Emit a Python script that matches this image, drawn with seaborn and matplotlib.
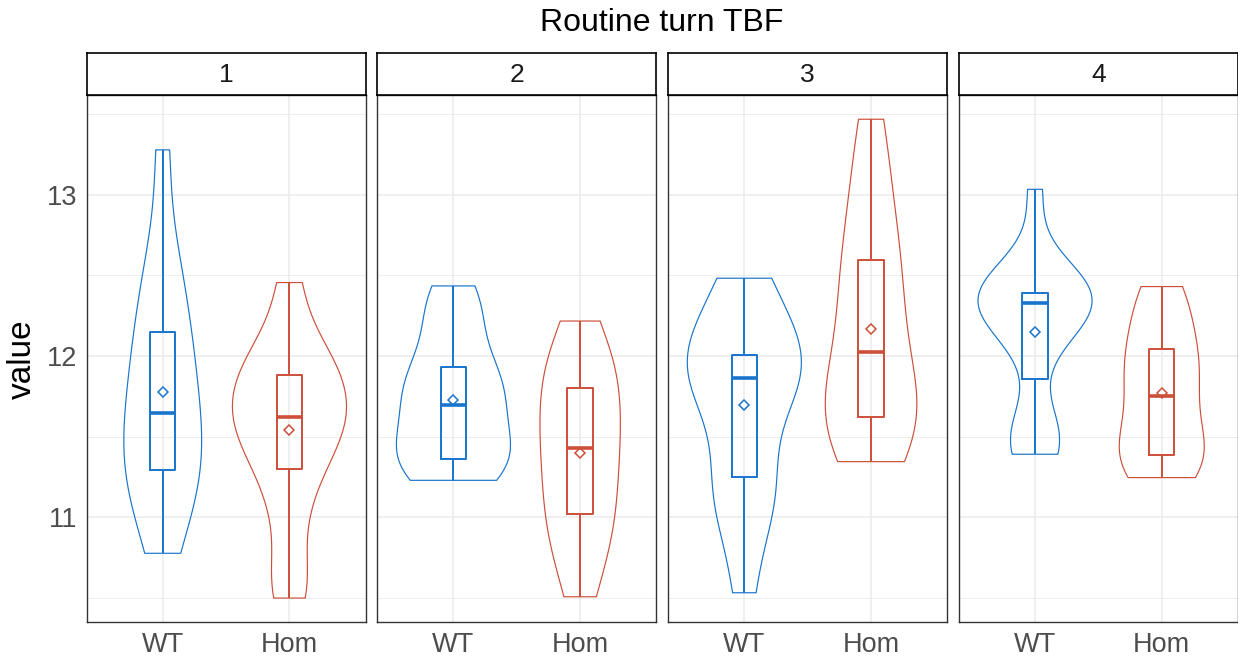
import numpy as np
import pandas as pd
import matplotlib
matplotlib.use("Agg")
import matplotlib.pyplot as plt
import seaborn as sns

# Routine turn TBF, per turn and genotype
turns = ["1", "2", "3", "4"]
genotypes = ["WT", "Hom"]
palette = {"WT": "#1874CD", "Hom": "#CD4F39"}

wt_1 = [10.775, 11.0, 11.15, 11.25, 11.334, 11.45, 11.55, 11.644, 11.82, 11.98, 12.05, 12.248, 12.45, 12.65, 13.28]
hom_1 = [10.497, 10.65, 11.0, 11.22, 11.38, 11.45, 11.55, 11.619, 11.67, 11.75, 11.84, 11.92, 11.98, 12.12, 12.456]
wt_2 = [11.228, 11.31, 11.34, 11.35, 11.366, 11.50, 11.62, 11.694, 11.78, 11.85, 11.88, 11.988, 12.23, 12.30, 12.435]
hom_2 = [10.505, 10.70, 10.88, 10.98, 11.054, 11.20, 11.33, 11.431, 11.52, 11.62, 11.75, 11.858, 11.92, 12.035, 12.217]
wt_3 = [10.53, 10.95, 11.12, 11.22, 11.274, 11.65, 11.80, 11.866, 11.93, 11.97, 11.99, 12.018, 12.22, 12.38, 12.483]
hom_3 = [11.344, 11.45, 11.55, 11.60, 11.642, 11.72, 11.85, 12.027, 12.22, 12.38, 12.52, 12.668, 12.90, 13.15, 13.47]
wt_4 = [11.39, 11.42, 11.48, 11.64, 12.08, 12.15, 12.24, 12.327, 12.35, 12.37, 12.39, 12.398, 12.45, 12.53, 13.035]
hom_4 = [11.245, 11.30, 11.36, 11.375, 11.395, 11.54, 11.66, 11.752, 11.86, 11.95, 12.02, 12.064, 12.26, 12.34, 12.431]

groups = {"1": (wt_1, hom_1), "2": (wt_2, hom_2), "3": (wt_3, hom_3), "4": (wt_4, hom_4)}

rows = []
for turn in turns:
    for geno, vals in zip(genotypes, groups[turn]):
        rows += [{"turn": turn, "genotype": geno, "value": v} for v in vals]
df = pd.DataFrame(rows)


def nrd0(kde):
    """Silverman's rule of thumb (R's bw.nrd0) as a scipy bandwidth factor."""
    x = np.asarray(kde.dataset, dtype=float).ravel()
    sd = x.std(ddof=1)
    q25, q75 = np.percentile(x, [25, 75])
    spread = min(sd, (q75 - q25) / 1.34)
    bw = 0.9 * spread * x.size ** -0.2
    return bw / sd


sns.set_theme(style="white")
plt.rcParams["font.family"] = ["Liberation Sans", "DejaVu Sans"]

W, H = 1238, 660
fig = plt.figure(figsize=(W / 100, H / 100), dpi=100)

lefts = [86.7, 377.4, 668.3, 959.0]
pw = 278.8
p_top, p_bot = 95.3, 622.0
s_top = 52.7

vmin, vmax = df["value"].min(), df["value"].max()
pad = 0.05 * (vmax - vmin)
ylim = (vmin - pad, vmax + pad)

grid_col = "#EBEBEB"
dark = "#333333"
tick_col = "#4D4D4D"

for i, turn in enumerate(turns):
    ax = fig.add_axes([lefts[i] / W, 1 - p_bot / H, pw / W, (p_bot - p_top) / H])
    sub = df[df["turn"] == turn]

    sns.violinplot(
        data=sub, x="genotype", y="value", hue="genotype",
        order=genotypes, hue_order=genotypes, palette=palette,
        fill=False, inner=None, cut=0, width=0.9,
        density_norm="area", common_norm=True, bw_method=nrd0,
        gridsize=512, linewidth=0.85, legend=False, ax=ax,
    )
    sns.boxplot(
        data=sub, x="genotype", y="value", hue="genotype",
        order=genotypes, hue_order=genotypes, palette=palette,
        fill=False, width=0.2, whis=(0, 100), showcaps=False,
        showfliers=False, linewidth=1.4,
        medianprops={"linewidth": 2.6}, legend=False, ax=ax,
    )
    sns.pointplot(
        data=sub, x="genotype", y="value", hue="genotype",
        order=genotypes, hue_order=genotypes, palette=palette,
        estimator="mean", errorbar=None, markers="D", linestyles="none",
        markersize=5.4, markeredgewidth=1.1, markerfacecolor="white",
        legend=False, ax=ax,
    )

    ax.set_xlim(-0.6, 1.6)
    ax.set_ylim(*ylim)
    ax.set_xlabel("")
    ax.set_ylabel("")
    ax.set_yticks([11, 12, 13])
    ax.set_yticks([10.5, 11.5, 12.5, 13.5], minor=True)
    ax.set_axisbelow(True)
    ax.grid(True, which="major", axis="both", color=grid_col, linewidth=1.1)
    ax.grid(True, which="minor", axis="y", color=grid_col, linewidth=0.6)
    ax.tick_params(which="minor", length=0)
    ax.tick_params(axis="x", which="major", length=4.5, width=1.0, color=dark,
                   labelsize=19.5, labelcolor=tick_col, pad=2.5)
    if i == 0:
        ax.tick_params(axis="y", which="major", length=4.5, width=1.0, color=dark,
                       labelsize=19.5, labelcolor=tick_col, pad=2.5)
    else:
        ax.tick_params(axis="y", which="major", length=0, labelleft=False)
    for sp in ax.spines.values():
        sp.set_color(dark)
        sp.set_linewidth(1.0)

    # facet strip
    sax = fig.add_axes([lefts[i] / W, 1 - p_top / H, pw / W, (p_top - s_top) / H])
    sax.set_xticks([])
    sax.set_yticks([])
    sax.set_facecolor("white")
    for sp in sax.spines.values():
        sp.set_color("black")
        sp.set_linewidth(1.2)
    sax.text(0.5, 0.47, turn, ha="center", va="center", fontsize=19, color="#1A1A1A",
             transform=sax.transAxes)

fig.text(22 / W, 1 - 359 / H, "value", rotation=90, ha="center", va="center",
         fontsize=24, color="black")
fig.text(662 / W, 1 - 23 / H, "Routine turn TBF", ha="center", va="center",
         fontsize=23, color="black")

fig.savefig("out.png", dpi=100, facecolor="white")
